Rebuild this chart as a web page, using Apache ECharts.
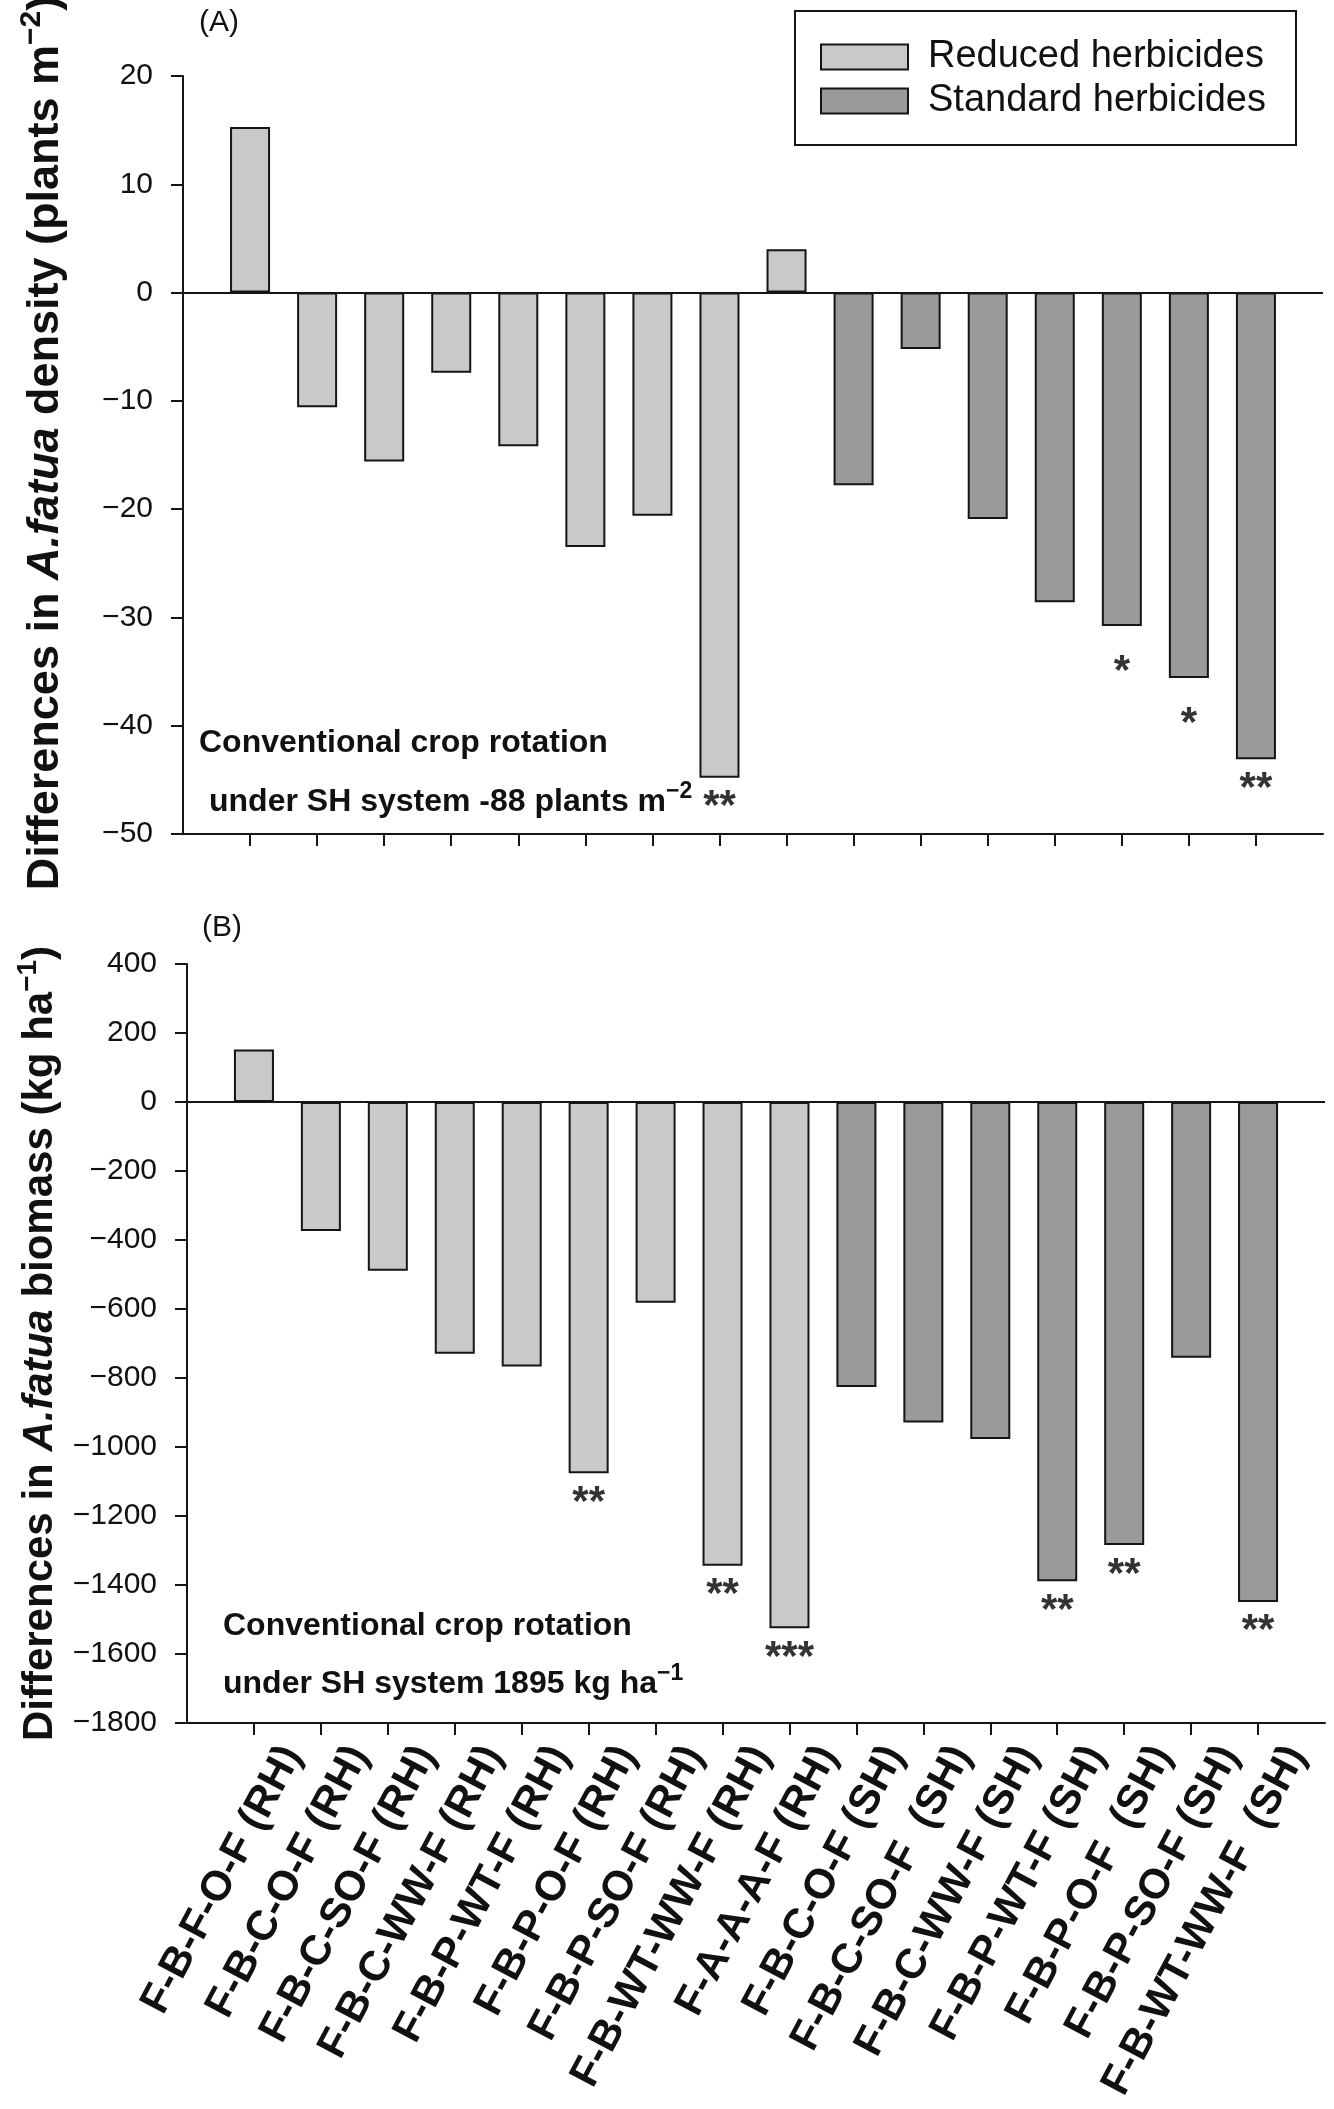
<!DOCTYPE html>
<html>
<head>
<meta charset="utf-8">
<script src="https://cdn.jsdelivr.net/npm/echarts@6/dist/echarts.min.js"></script>
<style>
html,body{margin:0;padding:0;background:#fff;}
#chart{width:1334px;height:2109px;}
</style>
</head>
<body>
<div id="chart"></div>
<script>
// ---- data ----
const categories = ['F-B-F-O-F (RH)', 'F-B-C-O-F (RH)', 'F-B-C-SO-F (RH)', 'F-B-C-WW-F (RH)', 'F-B-P-WT-F (RH)', 'F-B-P-O-F (RH)', 'F-B-P-SO-F (RH)', 'F-B-WT-WW-F (RH)', 'F-A-A-A-F (RH)', 'F-B-C-O-F (SH)', 'F-B-C-SO-F  (SH)', 'F-B-C-WW-F (SH)', 'F-B-P-WT-F (SH)', 'F-B-P-O-F  (SH)', 'F-B-P-SO-F (SH)', 'F-B-WT-WW-F  (SH)'];
const systems = ['RH','RH','RH','RH','RH','RH','RH','RH','RH','SH','SH','SH','SH','SH','SH','SH'];
const densityDiff = [15.3, -10.6, -15.6, -7.4, -14.2, -23.5, -20.6, -44.8, 4.0, -17.8, -5.2, -20.9, -28.6, -30.8, -35.6, -43.1];
const densitySig  = ['', '', '', '', '', '', '', '**', '', '', '', '', '', '*', '*', '**'];
const biomassDiff = [152, -374, -489, -730, -767, -1076, -582, -1344, -1525, -826, -929, -977, -1389, -1284, -741, -1449];
const biomassSig  = ['', '', '', '', '', '**', '', '**', '***', '', '', '', '**', '**', '', '**'];
const densityTicks = {min: -50, max: 20, interval: 10};
const biomassTicks = {min: -1800, max: 400, interval: 200};
const seriesNames = ['Reduced herbicides', 'Standard herbicides'];

// ---- styles ----
const FONT = '"Liberation Sans", Arial, Helvetica, sans-serif';
const LIGHT = '#c9c9c9';
const DARK = '#9a9a9a';
const INK = '#151515';
const axisCats = [''].concat(categories, ['']);
const nCat = axisCats.length;

function splitData(vals, sys) {
  return ['-'].concat(vals.map((v, i) => systems[i] === sys ? v : '-'), ['-']);
}
function sigData(vals, sigs) {
  const out = [];
  vals.forEach((v, i) => { if (sigs[i]) out.push({name: sigs[i], value: [i + 1, v]}); });
  return out;
}
const minus = v => String(v).replace('-', '\u2212');

function makeRich(fs) {
  return {
    b: {fontFamily: FONT, fontSize: fs, fontWeight: 'bold', color: '#111'},
    i: {fontFamily: FONT, fontSize: fs, fontWeight: 'bold', fontStyle: 'italic', color: '#111'},
    sup: {fontFamily: FONT, fontSize: Math.round(fs * 0.66), fontWeight: 'bold', color: '#111', verticalAlign: 'top', lineHeight: Math.round(fs * 1.28)}
  };
}
function valueAxis(idx, t, title, fs, gap, pad) {
  return {
    type: 'value', gridIndex: idx, min: t.min, max: t.max, interval: t.interval,
    splitLine: {show: false},
    axisLine: {show: true, lineStyle: {color: INK, width: 2}},
    axisTick: {show: true, inside: false, length: 12, lineStyle: {color: INK, width: 2}},
    axisLabel: {margin: 30, fontFamily: FONT, fontSize: 30, color: '#111', formatter: minus},
    name: title, nameLocation: 'middle', nameRotate: 90, nameGap: gap,
    nameTextStyle: {fontFamily: FONT, fontSize: fs, fontWeight: 'bold', color: '#111', padding: pad, rich: makeRich(fs)}
  };
}
function catAxis(idx, showLabels) {
  return {
    type: 'category', gridIndex: idx, data: axisCats, boundaryGap: false,
    axisLine: {show: !showLabels, onZero: false, lineStyle: {color: INK, width: 2}},
    axisTick: {show: !showLabels, length: 12, lineStyle: {color: INK, width: 2},
               interval: (i) => i > 0 && i < nCat - 1},
    axisLabel: showLabels ? {
      show: true, interval: 0, rotate: 62, margin: 26,
      fontFamily: FONT, fontSize: 42, fontWeight: 'bold', color: '#111'
    } : {show: false},
    splitLine: {show: false}
  };
}
function barSeries(idx, vals, sys, name, color, withZero) {
  const s = {
    type: 'bar', name: name, xAxisIndex: idx, yAxisIndex: idx,
    data: splitData(vals, sys), barWidth: 40, barGap: '-100%',
    itemStyle: {color: color, borderColor: INK, borderWidth: 2},
    emphasis: {disabled: true}, animation: false
  };
  if (withZero) {
    s.markLine = {silent: true, symbol: 'none', label: {show: false},
      lineStyle: {color: INK, width: 2, type: 'solid'}, data: [{yAxis: 0}]};
  }
  return s;
}
function sigSeries(idx, vals, sigs) {
  return {
    type: 'scatter', xAxisIndex: idx, yAxisIndex: idx, symbolSize: 0,
    itemStyle: {color: 'rgba(0,0,0,0)'}, data: sigData(vals, sigs), animation: false,
    emphasis: {disabled: true}, silent: true,
    label: {show: true, position: 'bottom', distance: 9,
            formatter: p => p.name.length === 1 ? '{s|' + p.name + '}' : p.name,
            fontFamily: FONT, fontSize: 42, fontWeight: 'bold', color: '#000',
            rich: {s: {fontFamily: FONT, fontSize: 42, fontWeight: 'bold', color: '#000', padding: [16, 0, 0, 0]}}}
  };
}
function annot(x, y, text) {
  return {type: 'text', left: x, top: y, silent: true, style: {
    text: text, fontFamily: FONT, fontSize: 32, fontWeight: 'bold', fill: '#111',
    rich: {sup: {fontFamily: FONT, fontSize: 23, fontWeight: 'bold', fill: '#111', verticalAlign: 'top', lineHeight: 44},
           n: {fontFamily: FONT, fontSize: 32, fontWeight: 'bold', fill: '#111', lineHeight: 44}}
  }};
}

const chart = echarts.init(document.getElementById('chart'), null, {renderer: 'canvas'});
chart.setOption({
  backgroundColor: '#fff',
  animation: false,
  textStyle: {fontFamily: FONT},
  legend: {
    left: 795, top: 11, orient: 'vertical',
    data: seriesNames,
    padding: [27, 30, 25, 25], itemGap: 6, itemWidth: 87, itemHeight: 25,
    borderColor: INK, borderWidth: 2, icon: 'rect',
    itemStyle: {borderColor: INK, borderWidth: 2},
    textStyle: {fontFamily: FONT, fontSize: 38, color: '#111', padding: [0, 0, 0, 15]},
    selectedMode: false
  },
  grid: [
    {left: 183, top: 76, width: 1140, height: 758, outerBoundsMode: 'none'},
    {left: 187, top: 964, width: 1138, height: 759, outerBoundsMode: 'none'},
    {left: 225, top: 964, width: 1138, height: 759, outerBoundsMode: 'none'}
  ],
  xAxis: [catAxis(0, false), catAxis(1, false), catAxis(2, true)],
  yAxis: [
    valueAxis(0, densityTicks, '{b|Differences in }{i|A.fatua}{b| density (plants m}{sup|\u22122}{b|)}', 45, 108, [0, 0, 0, 24]),
    valueAxis(1, biomassTicks, '{b|Differences in }{i|A.fatua}{b| biomass (kg ha}{sup|\u22121}{b|)}', 42, 112, [0, 0, 0, 0]),
    {type: 'value', gridIndex: 2, min: biomassTicks.min, max: biomassTicks.max, interval: biomassTicks.interval, show: false}
  ],
  series: [
    barSeries(0, densityDiff, 'RH', seriesNames[0], LIGHT, true),
    barSeries(0, densityDiff, 'SH', seriesNames[1], DARK, false),
    sigSeries(0, densityDiff, densitySig),
    barSeries(1, biomassDiff, 'RH', seriesNames[0], LIGHT, true),
    barSeries(1, biomassDiff, 'SH', seriesNames[1], DARK, false),
    sigSeries(1, biomassDiff, biomassSig)
  ],
  graphic: [
    {type: 'text', left: 199, top: 8, silent: true, style: {text: '(A)', fontFamily: FONT, fontSize: 30, fill: '#111'}},
    {type: 'text', left: 202, top: 913, silent: true, style: {text: '(B)', fontFamily: FONT, fontSize: 30, fill: '#111'}},
    annot(199, 727, '{n|Conventional crop rotation}'),
    annot(209, 780, '{n|under SH system -88 plants m}{sup|\u22122}'),
    annot(223, 1610, '{n|Conventional crop rotation}'),
    annot(223, 1662, '{n|under SH system 1895 kg ha}{sup|\u22121}')
  ]
});
</script>
</body>
</html>
